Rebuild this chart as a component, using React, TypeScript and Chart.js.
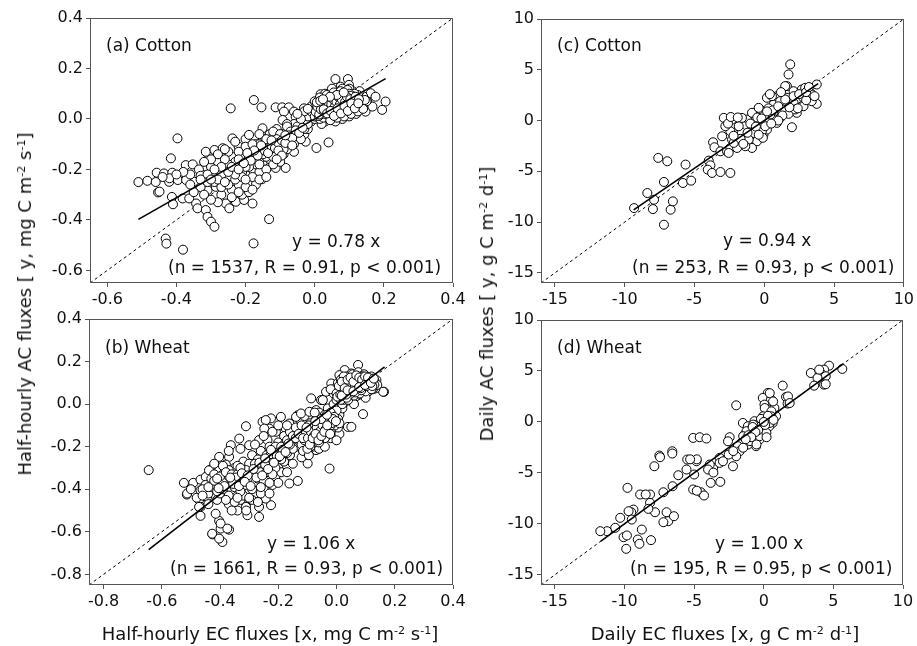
import React, { useEffect, useRef } from "react";
import { Chart, registerables } from "chart.js";
Chart.register(...registerables);

const W = 917;
const H = 646;
const FONT = "'DejaVu Sans', 'Liberation Sans', Arial, sans-serif";

// ---------- tick labels / axis ranges ----------
const ticksHalfHourlyCotton = [-0.6, -0.4, -0.2, 0.0, 0.2, 0.4];
const ticksHalfHourlyWheat = [-0.8, -0.6, -0.4, -0.2, 0.0, 0.2, 0.4];
const ticksDaily = [-15, -10, -5, 0, 5, 10];
const rangeHalfHourlyCotton = [-0.65, 0.4];
const rangeHalfHourlyWheat = [-0.85, 0.4];
const rangeDaily = [-16, 10];

// ---------- regression fits (slope, x-extent of fitted line) ----------
const fitSlopes = [0.78, 1.06, 0.94, 1.0];
const fitExtents = [
  [-0.51, 0.205],
  [-0.645, 0.165],
  [-9.36, 3.86],
  [-11.7, 5.7],
];

// ---------- (a) Cotton, half-hourly [EC x, AC y] ----------
const cottonHalfHourly: number[][] = [
  [-0.51,-0.25],[-0.484,-0.245],[-0.457,-0.213],[-0.453,-0.291],[-0.436,-0.216],[-0.421,-0.249],[-0.412,-0.213],[-0.416,-0.156],
  [-0.397,-0.077],[-0.413,-0.309],[-0.41,-0.338],[-0.431,-0.474],[-0.429,-0.494],[-0.381,-0.518],[-0.373,-0.183],[-0.353,-0.18],
  [-0.449,-0.288],[-0.42,-0.235],[-0.396,-0.242],[-0.372,-0.242],[-0.348,-0.249],[-0.382,-0.315],[-0.363,-0.315],[-0.343,-0.335],
  [-0.339,-0.354],[-0.315,-0.361],[-0.31,-0.388],[-0.3,-0.407],[-0.29,-0.427],[-0.177,-0.493],[-0.132,-0.397],[-0.257,-0.335],
  [-0.247,-0.354],[-0.228,-0.328],[-0.204,-0.321],[-0.18,-0.335],[-0.153,-0.239],[-0.243,0.042],[-0.176,0.075],[-0.154,0.046],
  [-0.113,0.046],[-0.094,0.046],[-0.075,0.046],[-0.06,0.029],[-0.031,0.042],[-0.089,0.029],[0.005,-0.115],[0.04,-0.093],
  [-0.026,-0.09],[0.06,0.158],[0.096,0.158],[0.075,0.128],[0.099,0.135],[0.046,0.106],[0.017,0.098],[0.162,0.102],
  [0.176,0.088],[0.152,0.069],[0.205,0.069],[0.195,0.036],[0.147,0.029],[0.167,0.049],
  [-0.315,-0.249],[-0.31,-0.282],[-0.286,-0.269],[-0.266,-0.249],[-0.29,-0.209],[-0.315,-0.189],[-0.305,-0.15],[-0.315,-0.13],
  [-0.29,-0.123],[-0.266,-0.116],[-0.335,-0.2],[-0.33,-0.225],[-0.3,-0.19],[-0.28,-0.17],[-0.26,-0.2],[-0.25,-0.23],
  [-0.27,-0.3],[-0.28,-0.33],[-0.24,-0.28],[-0.22,-0.26],[-0.23,-0.2],[-0.24,-0.15],[-0.25,-0.13],[-0.22,-0.11],
  [-0.2,-0.14],[-0.21,-0.18],[-0.2,-0.22],[-0.19,-0.25],[-0.21,-0.3],[-0.19,-0.29],[-0.17,-0.26],[-0.18,-0.2],
  [-0.18,-0.16],[-0.19,-0.12],[-0.2,-0.08],[-0.238,-0.077],[-0.19,-0.063],[-0.151,-0.037],[-0.093,-0.004],[-0.055,0.009],
  [-0.17,-0.1],[-0.16,-0.13],[-0.15,-0.17],[-0.16,-0.21],[-0.14,-0.2],[-0.13,-0.16],[-0.14,-0.12],[-0.15,-0.08],
  [-0.13,-0.06],[-0.12,-0.1],[-0.11,-0.13],[-0.113,-0.194],[-0.084,-0.194],[-0.1,-0.17],[-0.09,-0.14],[-0.1,-0.08],
  [-0.08,-0.05],[-0.07,-0.1],[-0.06,-0.13],[-0.05,-0.07],[-0.04,-0.03],[-0.03,-0.06],[-0.06,-0.02],[-0.08,-0.02],
  [-0.11,-0.04],[-0.13,-0.09],[-0.15,-0.11],[-0.17,-0.14],[-0.19,-0.17],[-0.21,-0.15],[-0.23,-0.17],[-0.25,-0.18],
  [-0.27,-0.22],[-0.29,-0.25],[-0.31,-0.22],[-0.33,-0.27],[-0.35,-0.29],[-0.36,-0.22],[-0.38,-0.21],[-0.4,-0.22],
  [-0.44,-0.23],[-0.46,-0.25],[-0.36,-0.26],[-0.32,-0.3],[-0.3,-0.32],[-0.27,-0.27],[-0.25,-0.26],[-0.23,-0.24],
  [-0.21,-0.21],[-0.17,-0.18],[-0.15,-0.15],[-0.12,-0.12],[-0.1,-0.11],[-0.08,-0.08],[-0.05,-0.05],[-0.03,-0.02],
  [-0.02,-0.04],[-0.01,-0.01],[-0.14,-0.1],[-0.16,-0.06],[-0.12,-0.07],[-0.09,-0.06],[-0.2,-0.11],[-0.22,-0.13],
  [-0.26,-0.16],[-0.28,-0.14],[-0.3,-0.16],[-0.32,-0.17],[-0.26,-0.12],[-0.23,-0.09],[-0.18,-0.23],[-0.16,-0.24],
  [-0.14,-0.23],[-0.12,-0.18],[-0.2,-0.27],[-0.24,-0.31],[-0.22,-0.29],[-0.18,-0.28],
  [-0.19,-0.15],[-0.17,-0.12],[-0.16,-0.16],[-0.15,-0.13],[-0.14,-0.15],[-0.13,-0.12],[-0.12,-0.14],[-0.11,-0.1],
  [-0.1,-0.13],[-0.09,-0.1],[-0.08,-0.12],[-0.07,-0.08],[-0.06,-0.1],[-0.05,-0.06],[-0.04,-0.08],[-0.03,-0.04],
  [-0.02,-0.02],[-0.18,-0.13],[-0.16,-0.1],[-0.14,-0.08],[-0.12,-0.05],[-0.1,-0.06],[-0.08,-0.03],[-0.06,-0.06],
  [-0.11,-0.08],[-0.13,-0.11],[-0.15,-0.14],[-0.17,-0.16],[-0.19,-0.19],[-0.21,-0.23],[-0.23,-0.22],[-0.25,-0.21],
  [-0.27,-0.19],[-0.29,-0.2],[-0.31,-0.25],[-0.33,-0.24],[-0.28,-0.24],[-0.24,-0.19],[-0.22,-0.16],[-0.2,-0.19],
  [-0.18,-0.1],[-0.16,-0.18],[-0.2,-0.24],[-0.22,-0.2],[-0.26,-0.25],[-0.3,-0.24],[-0.12,-0.15],[-0.09,-0.12],
  [-0.07,-0.05],[-0.05,-0.03],
  [-0.145,-0.125],[-0.135,-0.135],[-0.125,-0.105],[-0.115,-0.115],[-0.105,-0.095],[-0.095,-0.085],[-0.085,-0.095],[-0.075,-0.065],
  [-0.065,-0.075],[-0.055,-0.045],[-0.045,-0.055],[-0.035,-0.035],[-0.155,-0.105],[-0.165,-0.145],[-0.175,-0.125],[-0.185,-0.165],
  [-0.195,-0.135],[-0.205,-0.175],[-0.125,-0.085],[-0.105,-0.125],[-0.085,-0.065],[-0.065,-0.105],[-0.095,-0.145],[-0.11,-0.16],
  [0,0],[0.01,0.02],[0.02,0.01],[0.03,0.03],[0.04,0.02],[0.05,0.04],[0.06,0.03],[0.07,0.05],
  [0.08,0.04],[0.09,0.06],[0.1,0.05],[0.11,0.07],[0.12,0.06],[0.13,0.08],[0.0,0.04],[0.01,0.06],
  [0.02,0.05],[0.03,0.07],[0.04,0.06],[0.05,0.08],[0.06,0.07],[0.07,0.09],[0.08,0.08],[0.09,0.1],
  [0.1,0.09],[0.11,0.11],[0.12,0.1],[0.02,0.08],[0.04,0.1],[0.06,0.11],[0.08,0.12],[0.1,0.12],
  [0.03,-0.01],[0.05,0.0],[0.07,0.01],[0.09,0.02],[0.11,0.03],[0.13,0.04],[0.14,0.06],[0.12,0.02],
  [0.1,0.01],[0.08,0.0],[0.06,-0.01],[0.04,0.0],[0.02,-0.02],[-0.01,0.02],[-0.02,0.01],[-0.01,0.05],
  [0.0,0.07],[0.015,0.035],[0.035,0.045],[0.055,0.055],[0.075,0.065],[0.095,0.075],[0.115,0.085],[0.045,0.075],
  [0.065,0.085],[0.085,0.095],[0.025,0.065],[0.105,0.035],[0.125,0.045],[0.085,0.025],[0.065,0.015],[0.045,0.015],
  [0.025,0.025],[0.14,0.09],[0.15,0.07],[0.13,0.11],[0.05,0.12],[0.03,0.1],[-0.03,0.03],[-0.04,0.0],[-0.05,0.02],
  [0.005,0.01],[0.015,0.0],[0.025,0.045],[0.035,0.015],[0.045,0.055],[0.055,0.025],[0.065,0.065],[0.075,0.035],
  [0.085,0.075],[0.095,0.045],[0.105,0.085],[0.115,0.055],[0.125,0.095],[0.135,0.065],[0.005,0.055],[0.015,0.085],
  [0.035,0.095],[0.055,0.105],[0.075,0.11],[0.095,0.115],[0.115,0.1],[0.025,0.005],[0.045,-0.005],[0.065,0.005],
  [0.085,0.01],[0.105,0.02],[0.125,0.03],[0.14,0.04],[0.145,0.075],[0.0,0.02],[0.01,0.04],[0.02,0.03],
  [0.03,0.05],[0.04,0.04],[0.05,0.06],[0.06,0.05],[0.07,0.07],[0.08,0.06],[0.09,0.08],[0.1,0.07],
  [0.11,0.09],[0.12,0.08],[0.03,0.02],[0.05,0.02],[0.07,0.03],[0.09,0.04],[0.11,0.05],[0.06,0.09],
  [0.08,0.1],[0.1,0.1],[0.04,0.08],[0.02,0.06],[-0.01,0.03],[-0.02,0.04],[0.0,0.01],[0.012,0.012],
  [0.032,0.032],[0.052,0.042],[0.072,0.052],[0.092,0.062],[0.112,0.072],[0.042,0.062],[0.062,0.072],[0.082,0.082],[0.102,0.092],
  [0.003,0.028],[0.008,0.048],[0.013,0.018],[0.018,0.038],[0.023,0.058],[0.028,0.028],[0.033,0.048],[0.038,0.068],
  [0.043,0.038],[0.048,0.058],[0.053,0.078],[0.058,0.048],[0.063,0.068],[0.068,0.088],[0.073,0.058],[0.078,0.078],
  [0.083,0.048],[0.088,0.068],[0.093,0.088],[0.098,0.058],[0.103,0.078],[0.108,0.048],[0.113,0.068],[0.118,0.088],
  [0.123,0.058],[0.128,0.078],[0.006,0.066],[0.016,0.072],[0.026,0.038],[0.036,0.022],[0.046,0.032],[0.056,0.012],
  [0.066,0.042],[0.076,0.022],[0.086,0.052],[0.096,0.032],[0.106,0.062],[0.116,0.042],[0.126,0.062],[0.064,0.095],
  [0.084,0.105],[0.044,0.088],[0.024,0.078],
];

// ---------- (b) Wheat, half-hourly ----------
const wheatHalfHourly: number[][] = [
  [-0.645,-0.31],[-0.524,-0.37],[-0.492,-0.37],[-0.514,-0.425],[-0.467,-0.355],[-0.467,-0.405],[-0.472,-0.45],[-0.467,-0.483],
  [-0.467,-0.525],[-0.426,-0.612],[-0.398,-0.585],[-0.392,-0.648],[-0.369,-0.59],[-0.403,-0.549],[-0.306,-0.522],[-0.266,-0.53],
  [-0.225,-0.475],[-0.243,-0.444],[-0.311,-0.467],[-0.311,-0.104],[-0.334,-0.162],[-0.363,-0.193],[-0.369,-0.248],[-0.403,-0.248],
  [-0.38,-0.284],[-0.432,-0.307],[-0.449,-0.342],[-0.254,-0.083],[-0.225,-0.067],[-0.191,-0.06],[-0.231,-0.115],[-0.174,-0.115],
  [-0.151,-0.091],[-0.133,-0.052],[-0.11,-0.056],[-0.133,-0.361],[-0.162,-0.373],[-0.087,0.027],[-0.053,0.019],[-0.024,-0.303],
  [0.039,-0.107],[0.051,-0.107],[0.091,-0.047],[0.163,0.058],[0.074,0.184],[0.131,0.113],[0.028,0.16],[0.051,0.144],
  [0.01,0.136],[0.097,0.136],[0.137,0.113],[0.16,0.058],[0.134,0.074],[-0.018,0.097],[-0.036,0.058],[-0.047,0.019],
  [-0.243,-0.075],[-0.162,-0.091],[-0.248,-0.115],[-0.208,-0.13],[-0.139,-0.06],[-0.3,-0.193],[-0.266,-0.169],[-0.237,-0.169],
  [-0.438,-0.311],[-0.403,-0.311],[-0.3,-0.287],[-0.254,-0.279],[-0.208,-0.279],[-0.173,-0.264],[-0.513,-0.42],[-0.444,-0.436],
  [-0.472,-0.483],[-0.415,-0.515],[-0.398,-0.561],[-0.375,-0.585],[-0.427,-0.609],[-0.403,-0.632],[-0.266,-0.483],[-0.311,-0.483],
  [-0.122,-0.044],[-0.093,-0.036],[-0.07,-0.028],[-0.162,-0.169],[-0.116,-0.216],[-0.07,-0.216],[-0.099,-0.279],[-0.208,-0.216],
  [-0.45,-0.38],[-0.43,-0.35],[-0.42,-0.4],[-0.41,-0.45],[-0.4,-0.37],[-0.39,-0.33],[-0.38,-0.41],[-0.37,-0.47],
  [-0.36,-0.36],[-0.35,-0.3],[-0.35,-0.42],[-0.34,-0.5],[-0.33,-0.34],[-0.32,-0.27],[-0.32,-0.39],[-0.31,-0.44],
  [-0.3,-0.32],[-0.29,-0.24],[-0.29,-0.36],[-0.28,-0.42],[-0.27,-0.3],[-0.26,-0.22],[-0.26,-0.35],[-0.25,-0.4],
  [-0.24,-0.28],[-0.23,-0.2],[-0.23,-0.33],[-0.22,-0.38],[-0.21,-0.25],[-0.2,-0.18],[-0.2,-0.3],[-0.19,-0.22],
  [-0.18,-0.15],[-0.18,-0.27],[-0.17,-0.2],[-0.16,-0.13],[-0.16,-0.24],[-0.15,-0.17],[-0.14,-0.2],[-0.14,-0.11],
  [-0.44,-0.42],[-0.42,-0.33],[-0.4,-0.42],[-0.38,-0.35],[-0.36,-0.4],[-0.34,-0.37],[-0.33,-0.45],[-0.31,-0.35],
  [-0.3,-0.4],[-0.28,-0.33],[-0.27,-0.38],[-0.25,-0.31],[-0.24,-0.36],[-0.22,-0.29],[-0.21,-0.34],[-0.19,-0.26],
  [-0.19,-0.32],[-0.17,-0.23],[-0.15,-0.21],[-0.13,-0.17],[-0.46,-0.4],[-0.41,-0.38],[-0.37,-0.31],[-0.35,-0.46],
  [-0.32,-0.43],[-0.29,-0.45],[-0.26,-0.42],[-0.24,-0.24],[-0.21,-0.2],[-0.18,-0.19],[-0.27,-0.26],[-0.3,-0.28],
  [-0.34,-0.29],[-0.39,-0.29],[-0.42,-0.28],[-0.37,-0.22],[-0.33,-0.21],[-0.28,-0.19],[-0.25,-0.15],[-0.22,-0.13],
  [-0.2,-0.1],[-0.17,-0.1],[-0.36,-0.5],[-0.31,-0.5],[-0.27,-0.46],[-0.23,-0.42],[-0.2,-0.37],[-0.17,-0.32],
  [-0.15,-0.28],[-0.12,-0.25],[-0.48,-0.44],[-0.5,-0.4],[-0.44,-0.47],
  [-0.43,-0.39],[-0.41,-0.41],[-0.39,-0.37],[-0.37,-0.39],[-0.35,-0.35],[-0.33,-0.37],[-0.31,-0.31],[-0.29,-0.33],
  [-0.27,-0.29],[-0.25,-0.27],[-0.23,-0.25],[-0.21,-0.23],[-0.19,-0.2],[-0.17,-0.17],[-0.15,-0.15],[-0.42,-0.36],
  [-0.4,-0.34],[-0.38,-0.32],[-0.36,-0.33],[-0.34,-0.33],[-0.32,-0.35],[-0.3,-0.36],[-0.28,-0.37],[-0.26,-0.32],
  [-0.24,-0.32],[-0.22,-0.27],[-0.2,-0.25],[-0.18,-0.23],[-0.16,-0.19],[-0.14,-0.16],[-0.39,-0.4],[-0.37,-0.43],
  [-0.35,-0.39],[-0.33,-0.41],[-0.31,-0.38],[-0.29,-0.4],[-0.27,-0.35],[-0.25,-0.36],[-0.23,-0.37],[-0.21,-0.3],
  [-0.38,-0.45],[-0.34,-0.44],[-0.3,-0.44],[-0.26,-0.39],[-0.22,-0.33],[-0.44,-0.39],[-0.46,-0.43],[-0.41,-0.35],
  [-0.33,-0.3],[-0.28,-0.28],
  [-0.345,-0.345],[-0.325,-0.325],[-0.305,-0.335],[-0.285,-0.305],[-0.265,-0.275],[-0.245,-0.285],[-0.225,-0.235],[-0.205,-0.245],
  [-0.185,-0.215],[-0.165,-0.185],[-0.355,-0.375],[-0.335,-0.385],[-0.315,-0.365],[-0.295,-0.385],[-0.275,-0.345],[-0.255,-0.335],
  [-0.235,-0.305],[-0.215,-0.275],[-0.195,-0.245],[-0.175,-0.225],[-0.385,-0.385],[-0.405,-0.395],[-0.365,-0.345],[-0.245,-0.255],
  [-0.225,-0.215],
  [-0.11,-0.15],[-0.1,-0.12],[-0.1,-0.18],[-0.09,-0.09],[-0.09,-0.14],[-0.08,-0.2],[-0.08,-0.11],[-0.07,-0.07],
  [-0.07,-0.16],[-0.06,-0.12],[-0.06,-0.04],[-0.05,-0.18],[-0.05,-0.09],[-0.04,-0.14],[-0.04,-0.05],[-0.03,-0.11],
  [-0.03,-0.02],[-0.02,-0.16],[-0.02,-0.07],[-0.01,-0.12],[-0.01,-0.03],[0,-0.09],[0.01,-0.05],[0.01,-0.14],
  [0.02,-0.02],[-0.12,-0.19],[-0.12,-0.1],[-0.06,-0.21],[-0.075,-0.13],[-0.055,-0.1],[-0.035,-0.08],[-0.015,-0.1],
  [-0.045,-0.12],[-0.065,-0.06],[-0.085,-0.17],[-0.025,-0.13],[-0.005,-0.06],[0.005,-0.11],[-0.13,-0.14],[-0.115,-0.22],
  [-0.095,-0.24],[-0.04,-0.2],[0.0,-0.17],[-0.01,0.0],
  [-0.1,-0.15],[-0.09,-0.17],[-0.085,-0.12],[-0.075,-0.18],[-0.07,-0.1],[-0.065,-0.14],[-0.06,-0.08],[-0.055,-0.16],
  [-0.05,-0.12],[-0.045,-0.07],[-0.04,-0.1],[-0.035,-0.15],[-0.03,-0.06],[-0.025,-0.09],[-0.02,-0.12],[-0.015,-0.05],
  [-0.01,-0.08],[-0.005,-0.1],[0.0,-0.03],[0.005,-0.07],[-0.095,-0.1],[-0.08,-0.14],[-0.06,-0.15],[-0.05,-0.14],
  [-0.03,-0.13],[-0.02,-0.1],[-0.04,-0.16],[-0.07,-0.12],[-0.09,-0.2],[-0.11,-0.17],[-0.1,-0.21],[-0.06,-0.18],
  [-0.02,-0.04],[0.01,-0.09],[-0.045,-0.09],[-0.065,-0.09],[-0.085,-0.14],[-0.105,-0.13],[-0.115,-0.16],[-0.075,-0.04],
  [-0.098,-0.16],[-0.088,-0.13],[-0.078,-0.15],[-0.068,-0.11],[-0.058,-0.13],[-0.048,-0.1],[-0.038,-0.12],[-0.028,-0.08],
  [-0.018,-0.09],[-0.008,-0.06],[-0.092,-0.19],[-0.082,-0.16],[-0.072,-0.14],[-0.062,-0.17],[-0.052,-0.15],[-0.042,-0.13],
  [-0.032,-0.1],[-0.022,-0.14],[-0.012,-0.07],[-0.002,-0.08],[-0.053,-0.07],[-0.033,-0.05],[-0.073,-0.08],[-0.103,-0.11],
  [0,0.02],[0.01,0.05],[0.02,0.03],[0.03,0.07],[0.04,0.04],[0.05,0.09],[0.06,0.06],[0.07,0.1],
  [0.08,0.07],[0.09,0.11],[0.1,0.08],[0.11,0.1],[0.12,0.09],[0.13,0.11],[0.0,0.08],[0.01,0.1],
  [0.02,0.12],[0.03,0.01],[0.04,0.11],[0.05,0.03],[0.06,0.13],[0.07,0.04],[0.08,0.12],[0.09,0.05],
  [0.1,0.13],[0.11,0.06],[0.12,0.13],[0.015,0.075],[0.035,0.055],[0.055,0.075],[0.075,0.085],[0.095,0.095],
  [0.115,0.075],[0.025,0.095],[0.045,0.025],[0.065,0.035],[0.085,0.045],[0.105,0.055],[0.125,0.07],[0.035,0.13],
  [0.055,0.14],[0.075,0.15],[0.095,0.14],[-0.01,0.05],[-0.02,0.07],[0.14,0.09],[0.02,0.0],[0.06,0.0],[0.1,0.03],
  [0.005,0.04],[0.015,0.06],[0.025,0.02],[0.035,0.085],[0.045,0.065],[0.055,0.045],[0.065,0.105],[0.075,0.06],
  [0.085,0.1],[0.095,0.075],[0.105,0.115],[0.115,0.09],[0.125,0.1],[0.005,0.1],[0.015,0.115],[0.025,0.13],
  [0.045,0.1],[0.065,0.12],[0.085,0.13],[0.105,0.1],[0.01,0.03],[0.03,0.04],[0.05,0.05],[0.07,0.07],
  [0.09,0.08],[0.11,0.08],[0.02,0.08],[0.04,0.06],[0.06,0.08],[0.08,0.09],[0.1,0.1],[0.12,0.11],
  [0.03,0.1],[0.05,0.11],[0.07,0.12],[0.09,0.13],[0.0,0.05],[0.04,0.02],[0.06,0.04],[0.08,0.05],
  [0.1,0.06],[0.12,0.07],[0.13,0.09],[0.045,0.045],[0.065,0.055],[0.085,0.065],[0.025,0.055],[0.015,0.02],
  [0.035,0.03],[0.055,0.095],[0.075,0.115],[0.095,0.12],[0.115,0.12],
  [0.003,0.035],[0.013,0.045],[0.023,0.065],[0.033,0.045],[0.043,0.085],[0.053,0.065],[0.063,0.085],[0.073,0.095],
  [0.083,0.075],[0.093,0.105],[0.103,0.085],[0.113,0.105],[0.123,0.085],[0.008,0.085],[0.018,0.105],[0.028,0.075],
  [0.038,0.115],[0.048,0.125],[0.058,0.105],[0.068,0.135],[0.078,0.125],[0.088,0.115],[0.098,0.13],[0.108,0.125],
  [0.018,0.04],[0.038,0.065],[0.058,0.06],[0.078,0.08],[0.098,0.09],[0.118,0.1],[0.128,0.12],
];

// ---------- (c) Cotton, daily ----------
const cottonDaily: number[][] = [
  [-9.33,-8.62],[-8.38,-7.14],[-7.9,-7.8],[-7.98,-8.72],[-7.19,-10.26],[-6.71,-8.78],[-6.55,-7.96],[-7.19,-6.05],
  [-7.6,-3.68],[-6.95,-4.01],[-5.64,-4.34],[-5.83,-6.15],[-5.24,-5.92],[-3.98,-3.95],[-3.86,-4.41],[-4.05,-4.84],
  [-3.74,-5.16],[-3.14,-5.07],[-2.43,-5.16],[-3.67,-2.14],[-3.57,-2.63],[-3.14,-3.03],[-2.67,-3.03],[-2.43,-2.7],
  [-2.19,0.1],[-2.07,-0.39],[-2.43,-1.05],[-1.83,-1.38],[-1.24,0.1],[-0.76,0.76],[-0.29,1.09],[0.19,2.24],
  [0.9,2.4],[1.62,3.39],[2.1,2.89],[2.69,3.06],[3.29,2.73],[3.76,3.55],[3.76,1.64],[2.69,1.41],
  [1.98,-0.66],[1.86,5.53],[1.74,4.54],[1.5,0.92],[0.67,0.59],[-0.05,-1.38],[-0.52,-2.04],[-1.24,-2.04],
  [-1.95,-2.2],[-0.29,-0.56],[0.19,-0.07],[0.67,1.58],[1.14,1.91],[1.62,2.24],[2.1,1.74],[2.81,2.24],
  [3.4,1.91],[2.33,0.76],[1.74,0.66],[0.9,-0.23],[0.19,-0.89],[-0.76,-1.05],[-1.48,-0.56],
  [-2.9,0.26],[-2.79,-0.56],[-3.02,-1.55],[-2.31,-1.88],[-1.6,-1.22],[-1.83,-0.56],[-2.31,0.1],[-1.6,0.26],
  [-0.88,0.76],[-0.4,1.25],[-0.76,-1.22],[-0.88,-2.7],[-0.17,-1.05],[0.07,-0.56],[0.55,2.4],[1.26,1.09],
  [1.5,3.39],[2.1,2.4],[2.93,3.22],[2.81,1.41],[3.4,2.57],[0.79,0.1],[0.43,0.59],[1.14,0.26],
  [1.5,2.07],[2.21,1.09],[-1.12,-1.88],[-1.36,-2.53],[-1.95,-2.7],[-2.19,-2.2],[-2.55,-3.19],
  [-1.0,-0.3],[-0.5,0.3],[0,0.5],[0.3,1.2],[0.6,1.0],[1.0,1.4],[1.3,0.5],[1.0,0.0],
  [0.5,-0.3],[-0.2,0.2],[-1.2,-1.2],[-1.7,-1.8],[-2.2,-1.5],[-0.6,-0.6],[-0.1,-1.7],[2.5,2.6],
  [3.0,2.0],[2.4,1.2],[3.0,2.8],[1.8,1.3],[-2.6,-0.3],[-2.4,0.35],[-1.9,0.3],[0.4,2.6],
  [1.2,2.8],[0.2,0.9],[-0.4,-1.4],[-1.5,-2.3],[3.6,2.4],[3.2,3.3],
];

// ---------- (d) Wheat, daily ----------
const wheatDaily: number[][] = [
  [5.64,5.2],[4.69,5.52],[4.33,5.13],[4.21,4.64],[4.45,4.48],[3.38,4.8],[3.86,4.31],[3.62,3.56],
  [4.33,3.66],[3.98,5.13],[4.45,3.7],[1.36,3.56],[1.6,2.45],[1.71,1.8],[0.29,2.84],[-0.07,2.35],
  [0.52,2.19],[0.05,1.7],[0.4,1.21],[0.76,1.37],[0.88,0.56],[0.29,0.23],[0.64,-0.1],[0.17,-0.59],
  [0.4,-0.42],[-1.98,1.63],[-1.5,-0.1],[-1.14,-0.42],[-0.67,0.07],[-0.43,-0.26],[-0.9,-0.75],[-1.38,-1.24],
  [-0.67,-1.41],[-1.02,-1.9],[-0.31,-1.73],[-0.19,-1.08],[0.05,-0.92],[-0.55,-2.38],[-1.14,-2.22],[-1.62,-2.06],
  [-1.86,-2.38],[-1.74,-2.88],[-1.98,-3.37],[-2.21,-4.35],[-2.45,-1.5],[-2.57,-1.9],[-2.52,-3.2],[-3.17,-3.53],
  [-3.64,-4.51],[-3.17,-4.02],[-2.93,-3.86],[-3.88,-4.18],[-4.0,-4.67],[-3.12,-5.88],[-3.81,-5.98],[-5.07,-1.57],
  [-4.6,-1.5],[-4.12,-1.63],[-5.5,-3.69],[-5.55,-4.67],[-4.83,-3.86],[-5.0,-5.16],[-6.14,-5.23],[-6.55,-6.31],
  [-5.07,-6.63],[-4.52,-6.9],[-4.29,-7.22],[-6.57,-2.88],[-6.57,-3.1],[-7.5,-3.3],[-7.45,-3.46],[-7.86,-4.35],
  [-7.21,-6.9],[-8.17,-7.12],[-8.88,-7.12],[-8.48,-7.12],[-9.79,-6.47],[-8.17,-7.94],[-7.81,-8.86],[-8.29,-8.53],
  [-6.98,-8.86],[-6.86,-9.74],[-7.21,-9.84],[-6.45,-9.25],[-9.36,-8.6],[-9.52,-8.86],[-9.71,-8.76],[-10.31,-9.41],
  [-9.48,-9.58],[-8.76,-10.56],[-10.67,-10.39],[-11.26,-10.72],[-11.74,-10.72],[-10.07,-11.31],[-9.83,-11.14],[-9.88,-12.45],
  [-9.05,-11.54],[-8.93,-11.96],[-8.1,-11.6],
  [0.43,2.82],[0.67,2.01],[1.74,2.5],[1.86,1.85],[0.07,1.36],[0.55,1.04],[-0.05,0.55],[-0.17,-0.1],
  [-0.76,-0.26],[-1.24,-0.91],[-1.48,-1.4],[-1.0,-1.88],[-0.52,-2.21],[-0.29,-1.4],[0.19,-1.07],[0.43,-0.1],
  [0.55,0.55],[-1.48,-2.53],[-2.19,-2.86],[-3.62,-4.97],[-4.81,-6.75],[-4.81,-3.67],[-5.29,-3.67],
  [-0.8,-0.5],[-0.4,-0.8],[0.1,-0.3],[-0.2,0.3],[-1.1,-1.3],[-0.6,-1.0],[0.3,0.6],[0.7,0.2],
  [-0.9,-1.5],[-1.3,-1.7],[0.2,-1.5],[0.0,0.0],
];

// ---------- panel setup ----------
type Panel = {
  points: number[][];
  range: number[];
  ticks: number[];
  decimals: number;
  slope: number;
  fitX: number[];
  area: { l: number; t: number; r: number; b: number };
};

const panels: Panel[] = [
  { points: cottonHalfHourly, range: rangeHalfHourlyCotton, ticks: ticksHalfHourlyCotton, decimals: 1, slope: fitSlopes[0], fitX: fitExtents[0], area: { l: 90, t: 18, r: 453, b: 283 } },
  { points: wheatHalfHourly, range: rangeHalfHourlyWheat, ticks: ticksHalfHourlyWheat, decimals: 1, slope: fitSlopes[1], fitX: fitExtents[1], area: { l: 89, t: 319, r: 453, b: 585 } },
  { points: cottonDaily, range: rangeDaily, ticks: ticksDaily, decimals: 0, slope: fitSlopes[2], fitX: fitExtents[2], area: { l: 541, t: 19, r: 905, b: 283 } },
  { points: wheatDaily, range: rangeDaily, ticks: ticksDaily, decimals: 0, slope: fitSlopes[3], fitX: fitExtents[3], area: { l: 541, t: 320, r: 903, b: 585 } },
];

const framePlugin = {
  id: "frame",
  afterDraw(chart: any) {
    const { ctx, chartArea } = chart;
    const l = Math.round(chartArea.left) + 0.5;
    const t = Math.round(chartArea.top) + 0.5;
    const r = Math.round(chartArea.right) - 0.5;
    const b = Math.round(chartArea.bottom) - 0.5;
    ctx.save();
    ctx.strokeStyle = "#555";
    ctx.lineWidth = 1;
    ctx.strokeRect(l, t, r - l, b - t);
    ctx.restore();
  },
};

function makeChart(canvas: HTMLCanvasElement, p: Panel) {
  const AW = 60;
  const AH = 30;
  const fmt = (v: number) => (p.decimals ? Number(v).toFixed(p.decimals) : String(Math.round(v)));
  const axisCommon = (isX: boolean) => ({
    type: "linear" as const,
    min: p.range[0],
    max: p.range[1],
    afterBuildTicks: (s: any) => {
      s.ticks = p.ticks.map((v) => ({ value: v }));
    },
    afterFit: (s: any) => {
      if (isX) s.height = AH;
      else s.width = AW;
    },
    grid: { drawOnChartArea: false, drawTicks: true, tickLength: 4, color: "#555", lineWidth: 1 },
    border: { display: false },
    ticks: {
      font: { family: FONT, size: 16 },
      color: "#111",
      padding: 3,
      autoSkip: false,
      maxRotation: 0,
      callback: (v: any) => fmt(Number(v)),
    },
  });
  return new Chart(canvas, {
    type: "scatter",
    data: {
      datasets: [
        {
          type: "line",
          data: [
            { x: p.range[0], y: p.range[0] },
            { x: p.range[1], y: p.range[1] },
          ],
          borderColor: "#000",
          borderWidth: 1,
          borderDash: [3, 3],
          pointRadius: 0,
          fill: false,
          order: 3,
        } as any,
        {
          type: "scatter",
          data: p.points.map(([x, y]) => ({ x, y })),
          pointRadius: 4.5,
          pointHoverRadius: 4.5,
          borderWidth: 1,
          borderColor: "#000",
          backgroundColor: "#fff",
          order: 2,
        } as any,
        {
          type: "line",
          data: p.fitX.map((x) => ({ x, y: p.slope * x })),
          borderColor: "#000",
          borderWidth: 1.6,
          pointRadius: 0,
          fill: false,
          order: 1,
        } as any,
      ],
    },
    options: {
      responsive: false,
      animation: false,
      events: [],
      layout: {
        padding: {
          left: p.area.l - AW,
          top: p.area.t,
          right: W - p.area.r,
          bottom: H - p.area.b - AH,
        },
      },
      plugins: { legend: { display: false }, tooltip: { enabled: false } },
      scales: {
        x: axisCommon(true) as any,
        y: axisCommon(false) as any,
      },
    },
    plugins: [framePlugin],
  });
}

const sup = (s: string) => (
  <sup style={{ fontSize: "0.62em", verticalAlign: "0.5em", lineHeight: 0 }}>{s}</sup>
);

function Txt(props: { x: number; capTop: number; size: number; children: React.ReactNode }) {
  return (
    <div
      style={{
        position: "absolute",
        left: props.x,
        top: props.capTop - 0.117 * props.size,
        fontSize: props.size,
        lineHeight: 1,
        whiteSpace: "nowrap",
      }}
    >
      {props.children}
    </div>
  );
}

function CenterTxt(props: { cx: number; cy: number; size: number; rotate?: boolean; children: React.ReactNode }) {
  return (
    <div
      style={{
        position: "absolute",
        left: props.cx,
        top: props.cy,
        fontSize: props.size,
        lineHeight: 1,
        whiteSpace: "nowrap",
        transform: `translate(-50%, -50%)${props.rotate ? " rotate(-90deg)" : ""}`,
      }}
    >
      {props.children}
    </div>
  );
}

export default function App() {
  const refs = useRef<(HTMLCanvasElement | null)[]>([]);
  useEffect(() => {
    document.body.style.margin = "0";
    const charts = panels.map((p, i) => makeChart(refs.current[i] as HTMLCanvasElement, p));
    return () => charts.forEach((c) => c.destroy());
  }, []);

  const A = 17;
  const T = 18;
  return (
    <div
      style={{
        position: "absolute",
        left: 0,
        top: 0,
        width: W,
        height: H,
        background: "#fff",
        fontFamily: FONT,
        color: "#111",
        overflow: "hidden",
      }}
    >
      {panels.map((_, i) => (
        <canvas
          key={i}
          ref={(el) => {
            refs.current[i] = el;
          }}
          width={W}
          height={H}
          style={{ position: "absolute", left: 0, top: 0, width: W, height: H }}
        />
      ))}

      <Txt x={106} capTop={39} size={A}>(a) Cotton</Txt>
      <Txt x={292} capTop={235} size={A}>y = 0.78 x</Txt>
      <Txt x={168} capTop={260.5} size={A}>(n = 1537, R = 0.91, p &lt; 0.001)</Txt>

      <Txt x={105} capTop={341} size={A}>(b) Wheat</Txt>
      <Txt x={267} capTop={537} size={A}>y = 1.06 x</Txt>
      <Txt x={170} capTop={562} size={A}>(n = 1661, R = 0.93, p &lt; 0.001)</Txt>

      <Txt x={557} capTop={39} size={A}>(c) Cotton</Txt>
      <Txt x={723} capTop={234} size={A}>y = 0.94 x</Txt>
      <Txt x={632} capTop={260.5} size={A}>(n = 253, R = 0.93, p &lt; 0.001)</Txt>

      <Txt x={557} capTop={340.5} size={A}>(d) Wheat</Txt>
      <Txt x={715} capTop={537} size={A}>y = 1.00 x</Txt>
      <Txt x={630} capTop={562} size={A}>(n = 195, R = 0.95, p &lt; 0.001)</Txt>

      <CenterTxt cx={270} cy={634} size={T}>
        Half-hourly EC fluxes [x, mg C m{sup("-2")} s{sup("-1")}]
      </CenterTxt>
      <CenterTxt cx={725} cy={634} size={T}>
        Daily EC fluxes [x, g C m{sup("-2")} d{sup("-1")}]
      </CenterTxt>
      <CenterTxt cx={25} cy={304} size={T} rotate>
        Half-hourly AC fluxes [ y, mg C m{sup("-2")} s{sup("-1")}]
      </CenterTxt>
      <CenterTxt cx={487} cy={304} size={T} rotate>
        Daily AC fluxes [ y, g C m{sup("-2")} d{sup("-1")}]
      </CenterTxt>
    </div>
  );
}
